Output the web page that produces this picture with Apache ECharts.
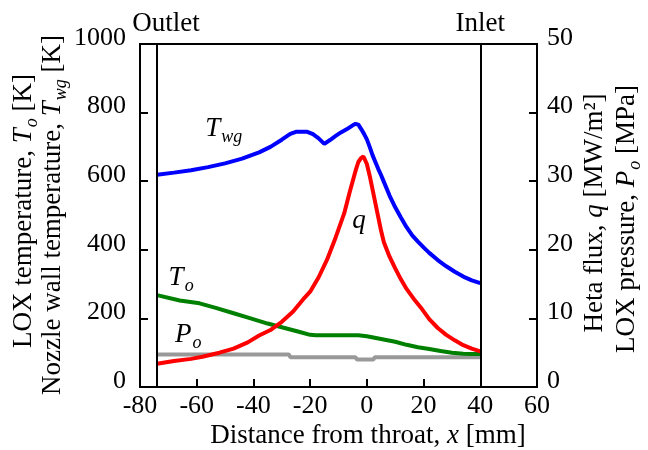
<!DOCTYPE html>
<html>
<head>
<meta charset="utf-8">
<script src="https://cdn.jsdelivr.net/npm/echarts@6/dist/echarts.min.js"></script>
<style>
  html, body { margin: 0; padding: 0; background: #fff; }
  #chart { width: 648px; height: 450px; }
</style>
</head>
<body>
<div id="chart"></div>
<script>
// ---- data (x in mm) ----
const twgX = [-74, -68, -62, -56, -50, -44, -38, -34, -30, -27, -25, -21, -19, -17, -15, -13, -11, -9, -7, -5, -4, -3, -2, -1, 0, 1, 2, 3, 4, 5, 6, 8, 10, 12, 14, 16, 18, 20, 22, 25, 28, 31, 34, 37, 40];
const twgY = [619, 625, 632, 641, 652, 666, 684, 700, 721, 738, 744, 744, 737, 725, 709, 720, 732, 743, 752, 763, 767, 765, 752, 738, 722, 700, 676, 656, 636, 618, 598, 558, 524, 494, 466, 442, 424, 407, 391, 370, 352, 336, 322, 311, 303];

const qX = [-74, -68, -62, -58, -52, -47, -42, -38, -34, -30, -26, -22, -20, -17, -14, -11, -8, -6, -4, -3, -2, -1.2, 0, 1, 2, 3, 4, 5, 6, 8, 10, 12, 14, 17, 19, 22, 25, 28, 31, 34, 37, 40];
const qY = [3.4, 3.8, 4.1, 4.4, 5.0, 5.6, 6.5, 7.5, 8.3, 9.5, 11.0, 13.0, 13.9, 16.0, 18.6, 21.8, 25.3, 28.5, 31.5, 32.8, 33.4, 33.6, 32.5, 30.8, 28.8, 26.8, 24.8, 22.8, 21.1, 19.0, 17.3, 15.7, 14.3, 12.6, 11.6, 9.9, 8.6, 7.6, 6.8, 6.1, 5.6, 5.2];

const toX = [-74, -66, -59, -53, -47, -41, -35, -29, -24, -20, -18, -3, 0, 5, 10, 14, 18, 22, 26, 30, 34, 37, 40];
const toY = [268, 252, 244, 230, 215, 200, 185, 172, 161, 152, 151, 151, 148, 140, 132, 123, 116, 111, 105, 100, 97, 96, 96];

const poX = [-74, -27.5, -27, -4, -3.5, 2.3, 2.8, 40];
const poY = [4.75, 4.75, 4.35, 4.35, 4.0, 4.0, 4.35, 4.35];

const xTicks = [-80, -60, -40, -20, 0, 20, 40, 60];
const leftTicks = [0, 200, 400, 600, 800, 1000];
const rightTicks = [0, 10, 20, 30, 40, 50];
const outletX = -74;
const inletX = 40;

// ---- styling ----
const FONT = 'Liberation Serif';
const FS = 26;
const TFS = 27;
const zip = (xs, ys) => xs.map((x, i) => [x, ys[i]]);

const richBase = {
  n:   { fontFamily: FONT, fontSize: TFS, color: '#000', lineHeight: 34 },
  i:   { fontFamily: FONT, fontSize: TFS, color: '#000', fontStyle: 'italic', lineHeight: 34 },
  sub: { fontFamily: FONT, fontSize: 18, color: '#000', fontStyle: 'italic', lineHeight: 18, padding: [16, 0, 0, 1] }
};
const richFill = {};
for (const k in richBase) { const o = Object.assign({}, richBase[k]); o.fill = o.color; richFill[k] = o; }

const tickRich = { a: { fontFamily: FONT, fontSize: FS, color: '#000', padding: [0, 0, 12, 0] } };

function lineSeries(name, data, color, yIdx, width, extra) {
  return Object.assign({
    name, type: 'line', data, yAxisIndex: yIdx,
    showSymbol: false, symbol: 'none', smooth: false,
    lineStyle: { color, width }, itemStyle: { color },
    z: 3, animation: false
  }, extra || {});
}
function labelPoint(coord, text) {
  return {
    coord, symbol: 'circle', symbolSize: 1,
    itemStyle: { color: 'rgba(0,0,0,0)' },
    label: { show: true, position: 'inside', formatter: text, rich: richBase }
  };
}
function yAxisCfg(ticks, pos, margin) {
  return {
    type: 'value', min: ticks[0], max: ticks[ticks.length - 1], interval: ticks[1] - ticks[0], position: pos,
    axisLine: { show: true, onZero: false, lineStyle: { color: '#000', width: 2 } },
    axisTick: { show: true, inside: true, length: 8, lineStyle: { color: '#000', width: 2 } },
    axisLabel: { margin, formatter: v => '{a|' + v + '}', rich: tickRich },
    splitLine: { show: false }
  };
}

const chart = echarts.init(document.getElementById('chart'), null, { renderer: 'canvas' });
chart.setOption({
  animation: false,
  backgroundColor: '#fff',
  grid: { left: 140, right: 111, top: 44, bottom: 63, show: true, borderColor: '#000', borderWidth: 2, backgroundColor: 'transparent' },
  xAxis: {
    type: 'value', min: xTicks[0], max: xTicks[xTicks.length - 1], interval: 20,
    axisLine: { show: true, onZero: false, lineStyle: { color: '#000', width: 2 } },
    axisTick: { show: true, inside: true, length: 8, lineStyle: { color: '#000', width: 2 } },
    axisLabel: { color: '#000', fontFamily: FONT, fontSize: FS, margin: 6, formatter: v => String(v) },
    splitLine: { show: false }
  },
  yAxis: [yAxisCfg(leftTicks, 'left', 14), yAxisCfg(rightTicks, 'right', 10)],
  series: [
    lineSeries('Po', zip(poX, poY), '#999999', 1, 4),
    lineSeries('To', zip(toX, toY), '#008000', 0, 4, {
      markPoint: { data: [labelPoint([-65.5, 318], '{i|T}{sub|o}')], animation: false }
    }),
    lineSeries('q', zip(qX, qY), '#ff0000', 1, 4, {
      markPoint: { data: [
        labelPoint([-2.8, 24.2], '{i|q}'),
        labelPoint([-63, 7.6], '{i|P}{sub|o}')
      ], animation: false }
    }),
    lineSeries('Twg', zip(twgX, twgY), '#0000ff', 0, 4, {
      markPoint: { data: [labelPoint([-50.5, 752], '{i|T}{sub|wg}')], animation: false },
      markLine: {
        silent: true, symbol: 'none', animation: false,
        lineStyle: { color: '#000', width: 2, type: 'solid' },
        label: { show: true, position: 'end', distance: 7, color: '#000', fontFamily: FONT, fontSize: TFS },
        data: [
          { xAxis: outletX, label: { formatter: 'Outlet', padding: [0, 0, 0, 18] } },
          { xAxis: inletX, label: { formatter: 'Inlet' } }
        ]
      }
    })
  ],
  graphic: [
    { type: 'text', x: 24, y: 211, rotation: Math.PI / 2,
      style: { text: '{n|LOX temperature, }{i|T}{sub|o}{n| [K]}', rich: richFill, align: 'center', verticalAlign: 'middle' } },
    { type: 'text', x: 53, y: 215, rotation: Math.PI / 2,
      style: { text: '{n|Nozzle wall temperature, }{i|T}{sub|wg}{n| [K]}', rich: richFill, align: 'center', verticalAlign: 'middle' } },
    { type: 'text', x: 595, y: 213, rotation: Math.PI / 2,
      style: { text: '{n|Heta flux, }{i|q}{n| [MW/m²]}', rich: richFill, align: 'center', verticalAlign: 'middle' } },
    { type: 'text', x: 627, y: 219, rotation: Math.PI / 2,
      style: { text: '{n|LOX pressure, }{i|P}{sub|o}{n| [MPa]}', rich: richFill, align: 'center', verticalAlign: 'middle' } },
    { type: 'text', x: 368, y: 436,
      style: { text: '{n|Distance from throat, }{i|x}{n| [mm]}', rich: richFill, align: 'center', verticalAlign: 'middle' } }
  ]
});
</script>
</body>
</html>
